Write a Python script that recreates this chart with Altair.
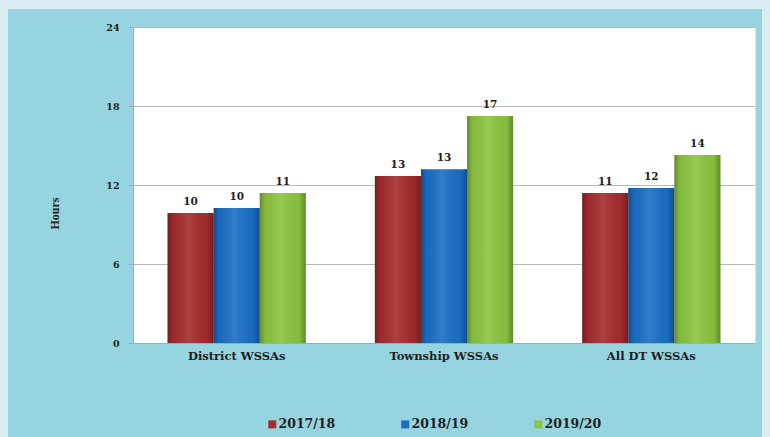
import altair as alt
import pandas as pd

# Average hours of water supply per day, by service area group and year
categories = ["District WSSAs", "Township WSSAs", "All DT WSSAs"]
years = ["2017/18", "2018/19", "2019/20"]
hours_2017 = [9.87, 12.68, 11.39]
hours_2018 = [10.25, 13.2, 11.77]
hours_2019 = [11.39, 17.24, 14.27]
y_ticks = [0, 6, 12, 18, 24]
year_colors = ["#a52c2d", "#1b6fc6", "#8cc540"]

rows = []
for yr, vals in zip(years, [hours_2017, hours_2018, hours_2019]):
    for cat, v in zip(categories, vals):
        rows.append({"group": cat, "year": yr, "hours": v})
df = pd.DataFrame(rows)

W, H = 622, 316
PAD = {"left": 133, "top": 27, "right": 15, "bottom": 94}
SERIF = "DejaVu Serif"
PALE = "#d9ecf2"

x_enc = alt.X(
    "group:N", sort=categories, title=None,
    scale=alt.Scale(paddingInner=0.333, paddingOuter=0.1667),
    axis=alt.Axis(labelAngle=0, labelFont=SERIF, labelFontWeight="bold",
                  labelFontSize=11.5, labelColor="#1e1e1e", labelPadding=7,
                  ticks=False, domainColor="#a8a8a8"),
)
xo_enc = alt.XOffset("year:N", sort=years, scale=alt.Scale(paddingInner=0))
y_enc = alt.Y(
    "hours:Q", title="Hours", stack=None,
    scale=alt.Scale(domain=[0, 24], nice=False),
    axis=alt.Axis(values=y_ticks, grid=True, gridColor="#b8b8b8", domainColor="#a8a8a8",
                  tickColor="#a8a8a8", tickSize=5, labelPadding=9, labelFont=SERIF,
                  labelFontWeight="bold", labelFontSize=9.5, labelColor="#1e1e1e",
                  titleFont="Liberation Serif", titleFontWeight="bold", titleFontSize=12,
                  titleColor="#1e1e1e", titleAngle=270, titleBaseline="middle",
                  titleX=-79, titleY=186),
)

base = alt.Chart(df)

# pale outer frame around the water-coloured backdrop
frame_top = base.mark_rect(color=PALE).encode(
    x=alt.value(-PAD["left"]), x2=alt.value(W + PAD["right"]), y=alt.value(-PAD["top"]), y2=alt.value(-18)
)
frame_left = base.mark_rect(color=PALE).encode(
    x=alt.value(-PAD["left"]), x2=alt.value(-125), y=alt.value(-PAD["top"]), y2=alt.value(H + PAD["bottom"])
)
frame_right = base.mark_rect(color=PALE).encode(
    x=alt.value(W + 7), x2=alt.value(W + PAD["right"]), y=alt.value(-PAD["top"]), y2=alt.value(H + PAD["bottom"])
)

bars = base.mark_bar().encode(
    x=x_enc, xOffset=xo_enc, y=y_enc,
    color=alt.Color("year:N", sort=years, title=None,
                    scale=alt.Scale(domain=years, range=year_colors),
                    legend=alt.Legend(orient="none", legendX=133, legendY=391,
                                      direction="horizontal", symbolType="square",
                                      symbolSize=64, symbolStrokeWidth=0,
                                      labelFont=SERIF, labelFontWeight="bold",
                                      labelFontSize=12.5, labelColor="#1e1e1e",
                                      labelOffset=0, columnPadding=63)),
)

# cylindrical shading over each bar
shade = base.mark_bar(
    fill={"gradient": "linear", "x1": 0, "x2": 1, "y1": 0, "y2": 0,
          "stops": [{"offset": 0, "color": "rgba(0,0,0,0.30)"},
                    {"offset": 0.12, "color": "rgba(0,0,0,0.05)"},
                    {"offset": 0.45, "color": "rgba(255,255,255,0.10)"},
                    {"offset": 0.85, "color": "rgba(0,0,0,0.04)"},
                    {"offset": 1, "color": "rgba(0,0,0,0.30)"}]},
).encode(x=x_enc, xOffset=xo_enc, y=y_enc)

labels = base.mark_text(
    dy=-8, baseline="alphabetic", font=SERIF, fontWeight="bold",
    fontSize=10.5, color="#1e1e1e",
).encode(x=x_enc, xOffset=xo_enc, y=y_enc, text=alt.Text("hours:Q", format=".0f"))

chart = alt.layer(frame_top, frame_left, frame_right, bars, shade, labels).properties(
    width=W, height=H, padding=PAD, background="#96d5e0",
    autosize=alt.AutoSizeParams(type="none"),
).configure_view(stroke="transparent", fill="#ffffff")

chart.save("out.html", embed_options={"renderer": "svg", "actions": False})
